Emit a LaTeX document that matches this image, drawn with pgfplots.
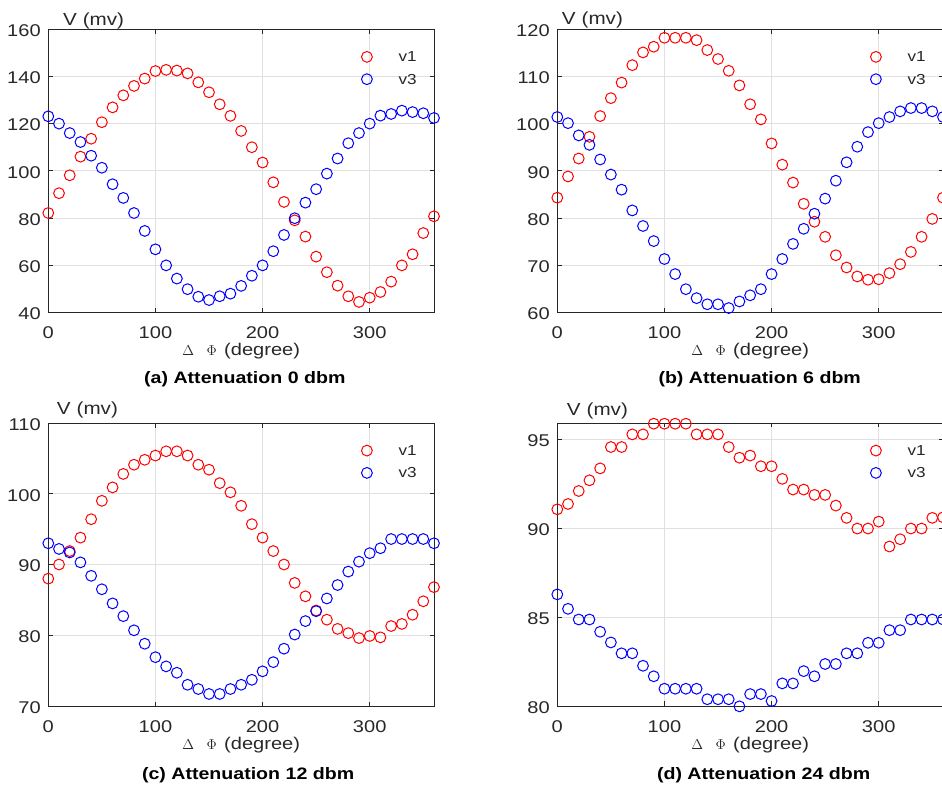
\documentclass[border=0pt]{standalone}
\usepackage[no-math]{fontspec}
\setmainfont{Liberation Sans}[FakeStretch=1.18]
\usepackage{pgfplots}
\pgfplotsset{compat=1.18}
\definecolor{axgray}{RGB}{38,38,38}
\definecolor{labgray}{RGB}{40,40,40}
\definecolor{gridgray}{RGB}{224,224,224}
\newcommand{\tf}{\fontsize{17}{19}\selectfont}
\newcommand{\yf}{\fontsize{17.5}{19}\selectfont}
\newcommand{\ttlf}{\fontsize{16.6}{19}\selectfont\bfseries}
\newcommand{\lf}{\fontsize{14.5}{16}\selectfont}
\newcommand{\yl}{V\hspace{6pt}(mv)}
\newcommand{\xl}{{\fontsize{15}{16}\selectfont$\Delta$}\hspace{12.5pt}{\fontsize{15}{16}\selectfont$\Phi$}\hspace{7.5pt}(degree)}
\pgfplotsset{
  panel/.style={
    scale only axis, width=385.7pt, height=283pt,
    xmin=0, xmax=360, xtick={0,100,200,300},
    axis line style={axgray, line width=0.9pt},
    tick style={axgray, line width=0.8pt},
    major tick length=4.5pt, tick align=inside,
    grid=major, grid style={gridgray, line width=0.8pt},
    tick label style={font=\tf, text=labgray},
    /pgf/number format/assume math mode=true,
    xticklabel style={anchor=north, inner sep=0pt, yshift=-14.2pt},
    yticklabel style={anchor=east, inner sep=0pt, xshift=-7.4pt, yshift=-1.5pt},
    clip=false,
    xlabel={\xl},
    xlabel style={at={(axis description cs:0.5,0)}, anchor=base, yshift=-43pt, inner sep=0pt, font=\tf, text=labgray},
    legend cell align=left,
    legend style={draw=none, fill=none, inner sep=0pt, font=\lf, text=axgray,
      column sep=25.6pt, row sep=10.3pt, nodes={inner sep=0pt, text depth=0pt},
      at={(axis description cs:0.810,0.9244)}, anchor=north west},
  },
  pv1/.style={only marks, mark=o, mark size=5.4pt, red, mark options={line width=1pt, solid},
    legend image code/.code={\path[draw=none,fill=none] (-6pt,-6pt) rectangle (6pt,6pt); \draw[##1] plot coordinates {(0pt,0pt)};}},
  pv3/.style={only marks, mark=o, mark size=5.4pt, blue, mark options={line width=1pt, solid},
    legend image code/.code={\path[draw=none,fill=none] (-6pt,-6pt) rectangle (6pt,6pt); \draw[##1] plot coordinates {(0pt,0pt)};}},
}
\begin{document}
\begin{tikzpicture}
% ---------------- (a)
\begin{axis}[panel, at={(48.3pt,474.7pt)}, anchor=south west,
  ymin=40, ymax=160, ytick={40,60,80,100,120,140,160}]
\addplot[pv1] coordinates {(0,82.1)(10,90.5)(20,98.1)(30,106.0)(40,113.6)(50,120.6)(60,126.9)(70,132.0)(80,136.0)(90,139.1)(100,142.3)(110,142.8)(120,142.5)(130,141.3)(140,137.5)(150,133.3)(160,128.2)(170,123.3)(180,116.9)(190,110.0)(200,103.5)(210,95.1)(220,86.8)(230,79.0)(240,72.1)(250,63.6)(260,57.0)(270,51.3)(280,46.8)(290,44.4)(300,46.2)(310,48.6)(320,53.0)(330,59.9)(340,64.6)(350,73.6)(360,80.7)};
\addlegendentry{v1}
\addplot[pv3] coordinates {(0,123.1)(10,120.0)(20,116.0)(30,112.2)(40,106.4)(50,101.3)(60,94.3)(70,88.5)(80,82.1)(90,74.5)(100,66.7)(110,59.9)(120,54.3)(130,49.8)(140,46.6)(150,45.2)(160,46.8)(170,47.9)(180,51.2)(190,55.5)(200,59.9)(210,65.9)(220,72.8)(230,79.9)(240,86.5)(250,92.2)(260,98.8)(270,105.2)(280,111.7)(290,116.0)(300,120.0)(310,123.4)(320,124.1)(330,125.5)(340,124.9)(350,124.4)(360,122.4)};
\addlegendentry{v3}
\node[anchor=base west, inner sep=0pt, font=\yf, text=labgray, xshift=14.5pt, yshift=3.3pt] at (rel axis cs:0,1) {\yl};
\node[anchor=base west, inner sep=0pt, font=\ttlf, xshift=95.7pt, yshift=-71.7pt] at (rel axis cs:0,0) {(a) Attenuation 0 dbm};
\end{axis}
% ---------------- (b)
\begin{axis}[panel, at={(557.3pt,474.7pt)}, anchor=south west,
  ymin=60, ymax=120, ytick={60,70,80,90,100,110,120}]
\addplot[pv1] coordinates {(0,84.3)(10,88.8)(20,92.6)(30,97.2)(40,101.6)(50,105.4)(60,108.7)(70,112.4)(80,115.1)(90,116.3)(100,118.2)(110,118.2)(120,118.2)(130,117.7)(140,115.6)(150,113.7)(160,111.2)(170,108.1)(180,104.1)(190,100.9)(200,95.8)(210,91.3)(220,87.5)(230,83.0)(240,79.2)(250,76.0)(260,72.1)(270,69.5)(280,67.6)(290,66.9)(300,67.0)(310,68.3)(320,70.2)(330,72.8)(340,76.0)(350,79.8)(360,84.3)};
\addlegendentry{v1}
\addplot[pv3] coordinates {(0,101.4)(10,100.1)(20,97.5)(30,95.5)(40,92.4)(50,89.2)(60,86.0)(70,81.6)(80,78.3)(90,75.1)(100,71.3)(110,68.1)(120,64.9)(130,63.0)(140,61.7)(150,61.7)(160,60.9)(170,62.3)(180,63.6)(190,64.9)(200,68.1)(210,71.3)(220,74.5)(230,77.7)(240,80.9)(250,84.1)(260,87.9)(270,91.8)(280,95.1)(290,98.2)(300,100.1)(310,101.4)(320,102.6)(330,103.3)(340,103.3)(350,102.6)(360,101.4)};
\addlegendentry{v3}
\node[anchor=base west, inner sep=0pt, font=\yf, text=labgray, xshift=4.4pt, yshift=4.3pt] at (rel axis cs:0,1) {\yl};
\node[anchor=base west, inner sep=0pt, font=\ttlf, xshift=101pt, yshift=-71.7pt] at (rel axis cs:0,0) {(b) Attenuation 6 dbm};
\end{axis}
% ---------------- (c)
\begin{axis}[panel, at={(48.3pt,81pt)}, anchor=south west,
  ymin=70, ymax=110, ytick={70,80,90,100,110}]
\addplot[pv1] coordinates {(0,88.0)(10,90.0)(20,91.9)(30,93.8)(40,96.4)(50,99.0)(60,100.9)(70,102.8)(80,104.1)(90,104.8)(100,105.4)(110,106.0)(120,106.0)(130,105.4)(140,104.1)(150,103.4)(160,101.5)(170,100.2)(180,98.3)(190,95.7)(200,93.8)(210,91.9)(220,90.0)(230,87.4)(240,85.5)(250,83.5)(260,82.2)(270,80.9)(280,80.3)(290,79.6)(300,79.9)(310,79.7)(320,81.3)(330,81.6)(340,82.9)(350,84.8)(360,86.8)};
\addlegendentry{v1}
\addplot[pv3] coordinates {(0,93.0)(10,92.2)(20,91.7)(30,90.3)(40,88.4)(50,86.5)(60,84.5)(70,82.7)(80,80.7)(90,78.8)(100,76.9)(110,75.6)(120,74.7)(130,73.0)(140,72.4)(150,71.7)(160,71.7)(170,72.4)(180,73.0)(190,73.7)(200,74.9)(210,76.2)(220,78.1)(230,80.1)(240,82.0)(250,83.4)(260,85.2)(270,87.1)(280,89.0)(290,90.4)(300,91.6)(310,92.3)(320,93.6)(330,93.6)(340,93.6)(350,93.6)(360,93.0)};
\addlegendentry{v3}
\node[anchor=base west, inner sep=0pt, font=\yf, text=labgray, xshift=8.4pt, yshift=8.3pt] at (rel axis cs:0,1) {\yl};
\node[anchor=base west, inner sep=0pt, font=\ttlf, xshift=93.5pt, yshift=-73pt] at (rel axis cs:0,0) {(c) Attenuation 12 dbm};
\end{axis}
% ---------------- (d)
\begin{axis}[panel, at={(557.3pt,81pt)}, anchor=south west,
  ymin=80, ymax=95.9, ytick={80,85,90,95}]
\addplot[pv1] coordinates {(0,91.05)(10,91.35)(20,92.08)(30,92.68)(40,93.35)(50,94.55)(60,94.55)(70,95.26)(80,95.26)(90,95.86)(100,95.86)(110,95.86)(120,95.86)(130,95.26)(140,95.26)(150,95.26)(160,94.55)(170,93.95)(180,94.07)(190,93.47)(200,93.47)(210,92.76)(220,92.16)(230,92.16)(240,91.86)(250,91.86)(260,91.26)(270,90.57)(280,89.97)(290,89.97)(300,90.36)(310,88.96)(320,89.37)(330,89.97)(340,89.97)(350,90.57)(360,90.6)};
\addlegendentry{v1}
\addplot[pv3] coordinates {(0,86.27)(10,85.46)(20,84.86)(30,84.86)(40,84.17)(50,83.57)(60,82.96)(70,82.96)(80,82.26)(90,81.67)(100,80.97)(110,80.97)(120,80.97)(130,80.97)(140,80.38)(150,80.38)(160,80.38)(170,79.98)(180,80.67)(190,80.67)(200,80.28)(210,81.27)(220,81.27)(230,81.96)(240,81.67)(250,82.36)(260,82.36)(270,82.96)(280,82.96)(290,83.55)(300,83.55)(310,84.26)(320,84.26)(330,84.86)(340,84.86)(350,84.86)(360,84.86)};
\addlegendentry{v3}
\node[anchor=base west, inner sep=0pt, font=\yf, text=labgray, xshift=9.4pt, yshift=7.7pt] at (rel axis cs:0,1) {\yl};
\node[anchor=base west, inner sep=0pt, font=\ttlf, xshift=99.5pt, yshift=-73pt] at (rel axis cs:0,0) {(d) Attenuation 24 dbm};
\end{axis}
\pgfresetboundingbox
\path[use as bounding box] (0pt,0pt) rectangle (942pt,787pt);
\end{tikzpicture}
\end{document}
